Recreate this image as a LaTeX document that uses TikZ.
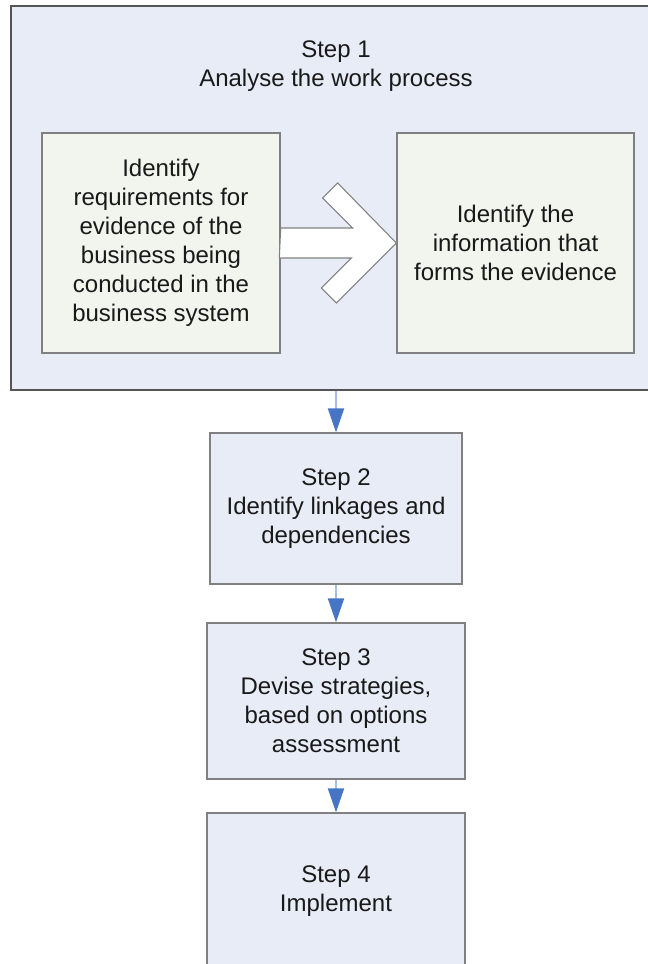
\documentclass[tikz,border=0pt]{standalone}
\usepackage{fontspec}
\setmainfont{Liberation Sans}
\usetikzlibrary{arrows.meta}

\definecolor{stageblue}{RGB}{232,236,246}
\definecolor{taskgreen}{RGB}{242,244,238}
\definecolor{edgegrey}{RGB}{128,128,128}
\definecolor{darkgrey}{RGB}{85,85,85}
\definecolor{flowline}{RGB}{164,192,232}
\definecolor{flowhead}{RGB}{71,117,197}

\begin{document}
\begin{tikzpicture}[
    x=0.75pt, y=-0.75pt,
    every node/.style={align=center, inner sep=0pt, text=black!90, font=\fontsize{18}{21.75}\selectfont},
    stage/.style={draw=edgegrey, line width=1pt, fill=stageblue},
    task/.style={draw=edgegrey, line width=1pt, fill=taskgreen, minimum height=165pt},
    flow/.style={flowline, line width=1.5pt, -{Triangle[length=18pt, width=12pt, color=flowhead]}}
]
% Set manual bounding box
\useasboundingbox (0,0) rectangle (648,964);

% Step 1 with its two tasks
\node[stage, draw=darkgrey, minimum width=486.75pt, minimum height=288pt] (step1) at (335.5,198) {};
\node (title) at (336,66) {Step 1\\Analyse the work process};

\node[task, minimum width=178.5pt] (req) at (161,243) {Identify\\requirements for\\evidence of the\\business being\\conducted in the\\business system};
\node[task, minimum width=177.75pt] (info) at (515.5,243) {Identify the\\information that\\forms the evidence};

% Block arrow between the tasks
\draw[edgegrey, line width=0.8pt, fill=white] (req.east) ++(0,-15) -- ++(72,0) -- ++(-30,-30) -- ++(15,-15)
    -- (info.west) -- ++(-60,60) -- ++(-15,-15) -- ++(30,-30) -- ++(-72,0) -- cycle;

% Later steps
\node[stage, minimum width=189pt, minimum height=113.25pt] (step2) at (336,508.5) {Step 2\\Identify linkages and\\dependencies};
\node[stage, minimum width=193.5pt, minimum height=117pt] (step3) at (336,701) {Step 3\\Devise strategies,\\based on options\\assessment};
\node[stage, minimum width=193.5pt, minimum height=117pt] (step4) at (336,891) {Step 4\\Implement};

% Connections
\draw[flow] (step2.north |- step1.south) -- (step2.north);
\draw[flow] (step2) -- (step3);
\draw[flow] (step3) -- (step4);

\end{tikzpicture}
\end{document}
